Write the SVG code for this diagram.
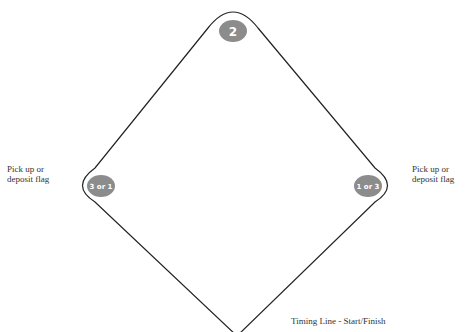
<svg xmlns="http://www.w3.org/2000/svg" width="468" height="332" viewBox="0 0 468 332">
<style>
.lbl{font-family:"Liberation Serif",serif;font-size:9px;fill:#333}
.num{font-family:"DejaVu Sans",sans-serif;font-weight:bold;fill:#fff;text-anchor:middle}
.mk{fill:#8c8c8c}
.track{fill:none;stroke:#222;stroke-width:1.2}
</style>
<rect width="468" height="332" fill="#fff"/>
<g id="connectors">
<path class="track" d="M 237 336 L 95 202 Q 70 186 95 168 L 208 28 Q 233 -4 258 28 L 375 168 Q 400 186 375 202 L 237 336"/>
</g>
<g id="marker2">
<ellipse class="mk" cx="233" cy="31" rx="14" ry="11"/>
<text class="num" x="233" y="35.5" font-size="12">2</text>
</g>
<g id="markerLeft">
<ellipse class="mk" cx="101" cy="186" rx="14" ry="11"/>
<text class="num" x="101" y="189" font-size="7">3 or 1</text>
</g>
<g id="markerRight">
<ellipse class="mk" cx="368" cy="186" rx="14" ry="11"/>
<text class="num" x="368" y="189" font-size="7">1 or 3</text>
</g>
<g id="labelLeft">
<text class="lbl" x="7" y="172">Pick up or</text>
<text class="lbl" x="7" y="182">deposit flag</text>
</g>
<g id="labelRight">
<text class="lbl" x="412" y="172">Pick up or</text>
<text class="lbl" x="412" y="182">deposit flag</text>
</g>
<g id="labelTiming">
<text class="lbl" x="291" y="324">Timing Line - Start/Finish</text>
</g>
</svg>
